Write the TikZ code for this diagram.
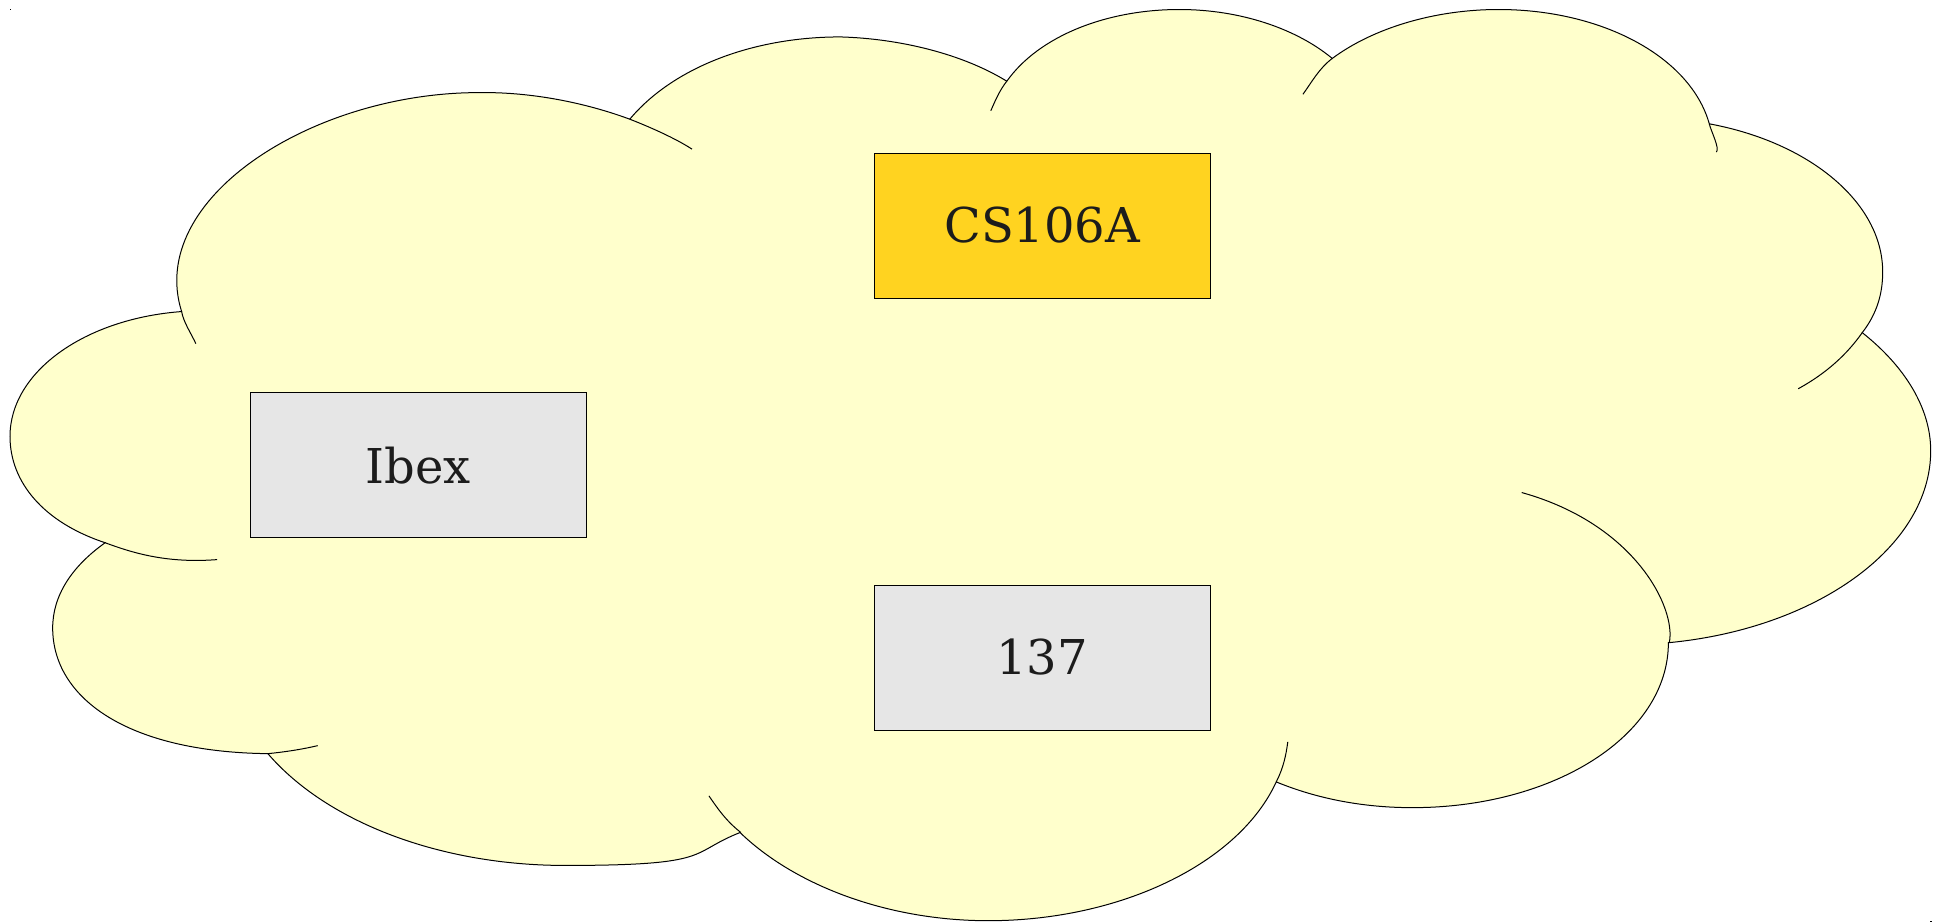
\documentclass[tikz,border=0pt]{standalone}
\usepackage{fontspec}
\setmainfont{DejaVu Serif}
\definecolor{cloudfill}{HTML}{FFFFCC}
\definecolor{csfill}{HTML}{FFD320}
\definecolor{grayfill}{HTML}{E6E6E6}
\definecolor{txtc}{HTML}{1C1C1C}
\begin{document}
\begin{tikzpicture}[x=0.5pt,y=-0.5pt,
  box/.style={draw=black, line width=0.5pt, minimum width=168pt, minimum height=72.5pt, inner sep=0pt, text=txtc, font=\fontsize{24pt}{28pt}\selectfont},
  cloudline/.style={draw=black, line width=0.5pt}]
\useasboundingbox (0,0) rectangle (1945,922);
\fill (10,9) rectangle (11.2,10.4);
\fill (1930.2,920.6) rectangle (1931.8,922);
\begin{scope}[shift={(10,9.5)}, x=4.44606pt, y=-2.10926pt]
\filldraw[fill=cloudfill, cloudline] (19.30,71.60)
  .. controls (15.30,44.90) and (34.00,19.70) .. (52.70,19.70)
  .. controls (58.60,19.50) and (64.70,22.10) .. (69.70,26.00)
  .. controls (74.50,13.90) and (83.40,6.50) .. (93.40,6.50)
  .. controls (100.04,6.90) and (107.10,10.50) .. (112.10,17.00)
  .. controls (115.70,6.30) and (123.30,0) .. (131.50,0)
  .. controls (138.40,0) and (144.70,4.60) .. (148.70,11.60)
  .. controls (153.30,4.40) and (160.20,0) .. (167.40,0)
  .. controls (179.10,0) and (189.00,11.30) .. (191.10,27.10)
  .. controls (202.40,31.50) and (210.60,45.80) .. (210.60,62.20)
  .. controls (210.60,67.20) and (210.00,72.00) .. (208.30,76.60)
  .. controls (213.10,84.60) and (216.00,94.50) .. (216.00,104.60)
  .. controls (216.00,127.50) and (203.10,146.80) .. (186.50,150.10)
  .. controls (186.50,172.00) and (173.70,189.20) .. (157.70,189.20)
  .. controls (152.20,189.20) and (147.00,187.10) .. (142.40,183.10)
  .. controls (138.20,202.40) and (124.90,216.00) .. (110.00,216.00)
  .. controls (98.90,216.00) and (88.40,207.90) .. (82.10,195.10)
  .. controls (76.20,200.00) and (79.30,202.90) .. (62.40,202.90)
  .. controls (48.50,202.90) and (35.70,192.80) .. (29.00,176.40)
  .. controls (13.00,176.00) and (4.80,163.00) .. (4.80,146.60)
  .. controls (4.80,139.00) and (6.90,132.10) .. (10.70,126.40)
  .. controls (3.80,121.60) and (0,112.10) .. (0,101.20)
  .. controls (0,85.90) and (8.40,73.30) .. (19.30,71.60)
  -- cycle;
\draw[cloudline]
  (19.30,71.60) .. controls (19.50,74.10) and (20.40,76.90) .. (20.90,79.20)
  (69.70,26.00) .. controls (72.00,27.90) and (74.80,30.50) .. (76.70,33.10)
  (112.10,17.00) .. controls (111.30,19.10) and (110.80,21.60) .. (110.30,24.00)
  (148.70,11.60) .. controls (147.20,14.00) and (146.40,17.20) .. (145.40,20.10)
  (191.10,27.10) .. controls (191.30,28.90) and (192.30,32.90) .. (191.90,33.80)
  (208.30,76.60) .. controls (206.60,81.70) and (204.30,86.20) .. (201.10,89.90)
  (186.60,150.10) .. controls (187.40,142.00) and (182.80,122.00) .. (170.00,114.50)
  (142.40,183.10) .. controls (143.20,179.80) and (143.50,176.80) .. (143.70,173.60)
  (82.20,195.10) .. controls (80.60,192.50) and (79.60,189.50) .. (78.60,186.40)
  (29.00,176.40) .. controls (30.90,176.00) and (32.80,175.40) .. (34.60,174.50)
  (10.70,126.40) .. controls (14.00,129.00) and (17.80,131.30) .. (23.30,130.40);
\end{scope}
\node[box, fill=csfill] (cs) at (1042.25,225.5) {CS106A};
\node[box, fill=grayfill] (ibex) at (418,465.2) {Ibex};
\node[box, fill=grayfill] (n137) at (1042.25,657.5) {137};
\end{tikzpicture}
\end{document}
